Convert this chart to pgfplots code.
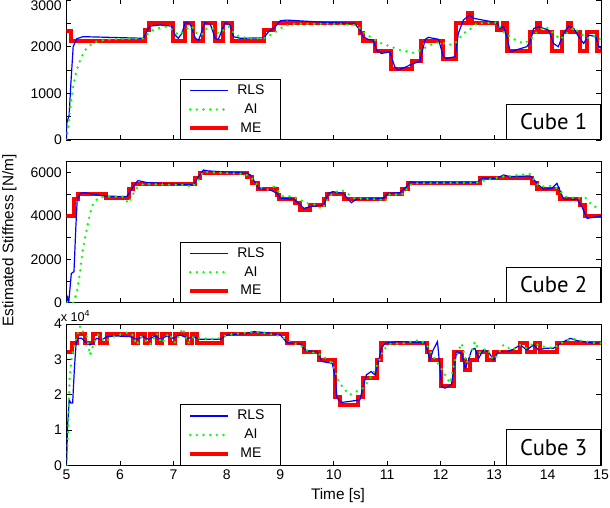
\documentclass[border=0pt]{standalone}
\usepackage{fontspec}
\setmainfont{Liberation Sans}
\newfontfamily\cubefont{PT Sans}
\usepackage{pgfplots}
\pgfplotsset{compat=1.18}
\definecolor{aigreen}{RGB}{0,255,0}
\pgfplotsset{
  base/.style={
    scale only axis, width=400.9pt,
    xmin=5, xmax=15, ymin=0,
    xtick={5,...,15},
    tick pos=both,
    tick align=inside,
    major tick length=3.75pt, minor tick length=3.75pt,
    every tick/.style={black, line width=0.5pt},
    axis line style={black, line width=0.75pt},
    ticklabel style={font=\fontsize{10.5}{12}\selectfont},
    /pgf/number format/assume math mode=true,
    /pgf/number format/1000 sep={},
    legend style={at={(0.212,0)}, anchor=south west, draw=black, line width=0.6pt, fill=white,
      font=\fontsize{10.5}{12}\selectfont, inner xsep=6pt, inner ysep=3pt, row sep=3.5pt,
      nodes={inner sep=1pt}},
    legend image code/.code={\draw[#1] (0pt,0pt) -- (28pt,0pt);},
  },
  me/.style={red, line width=3pt, mark=none},
  rls/.style={blue, line width=0.9pt, mark=none},
  ai/.style={aigreen, line width=2pt, line cap=round, dash pattern=on 0pt off 5pt, mark=none},
}
\begin{document}
\begin{tikzpicture}
\useasboundingbox (0pt,0pt) rectangle (457.5pt,380.25pt);
% ---------------- Cube 1
\begin{axis}[base, at={(49.875pt,275.25pt)}, anchor=south west, height=106.1pt, ymax=3032,
  xticklabels={},
  ytick={0,1000,2000}, minor ytick={500,1500,2500},
  extra y ticks={3000}, extra y tick style={yticklabel style={yshift=-4.5pt}}]
\addplot[me, const plot, forget plot] coordinates {
(5.00,2330) (5.08,2130) (6.47,2360) (6.55,2515) (7.00,2130) (7.22,2515) (7.375,2130) (7.56,2515) (7.77,2130) (7.92,2515) (8.09,2130) (8.69,2360) (8.875,2515) (10.49,2290) (10.55,2130) (10.77,1915) (11.08,1515) (11.46,1690) (11.64,2130) (12.05,1730) (12.29,2515) (12.52,2715) (12.58,2515) (13.05,2360) (13.175,2515) (13.24,1915) (13.675,2320) (13.8,2515) (13.85,2320) (14.08,1915) (14.27,2320) (14.39,2515) (14.44,2320) (14.61,1915) (14.74,2320) (14.925,1915) (15.0,1915)};
\addplot[rls] coordinates {
(5.0,0) (5.004,357) (5.05,535) (5.08,1180) (5.125,2000) (5.19,2170) (5.31,2215) (6.44,2180) (6.5,2320) (6.56,2440) (6.75,2465) (6.97,2440) (7.03,2250) (7.09,2180) (7.16,2285) (7.22,2515) (7.31,2500) (7.41,2180) (7.47,2140) (7.53,2320) (7.59,2515) (7.69,2485) (7.78,2180) (7.84,2157) (7.91,2355) (7.97,2515) (8.06,2465) (8.125,2215) (8.25,2180) (8.69,2190) (8.78,2320) (8.875,2390) (9.0,2555) (9.125,2570) (9.925,2515) (10.39,2500) (10.49,2355) (10.55,2215) (10.64,2157) (10.74,2140) (10.8,1930) (10.89,1855) (11.05,1890) (11.14,1570) (11.2,1500) (11.36,1570) (11.46,1630) (11.61,1680) (11.71,2157) (11.77,2200) (11.96,2157) (12.05,1785) (12.11,1750) (12.27,1785) (12.33,2285) (12.425,2570) (12.54,2680) (12.61,2610) (12.86,2555) (13.05,2515) (13.11,2390) (13.175,2430) (13.24,2215) (13.3,1890) (13.61,2000) (13.675,2100) (13.74,2390) (13.83,2430) (14.02,2355) (14.11,2070) (14.2,2000) (14.3,2285) (14.39,2440) (14.49,2390) (14.58,2215) (14.675,2070) (14.77,2250) (14.9,2215) (14.96,2000) (15.0,1965)};
\addplot[ai] coordinates {
(5.0,0) (5.04,357) (5.08,785) (5.13,1180) (5.19,1500) (5.28,1785) (5.375,1965) (5.5,2090) (5.69,2140) (5.81,2157) (6.44,2180) (6.56,2320) (6.69,2390) (6.875,2430) (7.0,2355) (7.09,2250) (7.22,2355) (7.34,2440) (7.44,2285) (7.53,2250) (7.625,2390) (7.75,2390) (7.84,2285) (7.94,2355) (8.03,2430) (8.16,2250) (8.375,2180) (8.69,2180) (8.875,2285) (9.0,2390) (9.19,2485) (9.925,2490) (10.425,2465) (10.58,2285) (10.675,2215) (10.86,2085) (11.24,1930) (11.49,1870) (11.64,1930) (11.8,2035) (11.99,2100) (12.14,2035) (12.27,2070) (12.425,2285) (12.55,2370) (12.675,2500) (13.05,2515) (13.175,2320) (13.33,2180) (13.55,2070) (13.675,2140) (13.8,2320) (13.96,2430) (14.08,2320) (14.24,2157) (14.36,2285) (14.49,2410) (14.61,2285) (14.74,2180) (14.925,2230) (15.0,2140)};
\addlegendimage{me}
\legend{\makebox[30pt]{RLS},\makebox[30pt]{AI},\makebox[30pt]{ME}}
\node[draw=black, line width=0.6pt, fill=white, anchor=south east, minimum width=70.5pt, minimum height=26.5pt, inner sep=0pt, font=\cubefont\fontsize{17}{20}\selectfont] at (rel axis cs:1,0) {Cube 1};
\end{axis}
% ---------------- Cube 2
\begin{axis}[base, at={(49.875pt,153.2pt)}, anchor=south west, height=105.75pt, ymax=6500,
  xticklabels={},
  ytick={0,2000,4000,6000}, minor ytick={1000,3000,5000}]
\addplot[me, const plot, forget plot] coordinates {
(5.00,4000) (5.14,4770) (5.22,5015) (5.74,4815) (6.16,5230) (6.25,5475) (7.40,5740) (7.50,6000) (8.375,5815) (8.47,5500) (8.59,5230) (8.94,4970) (8.97,4770) (9.28,4585) (9.375,4275) (9.56,4505) (9.81,4770) (9.875,5015) (10.20,4770) (10.96,5015) (11.27,5230) (11.39,5505) (12.74,5740) (13.70,5505) (13.80,5245) (14.20,5045) (14.24,4770) (14.61,4505) (14.70,4000) (15.00,4000)};
\addplot[rls] coordinates {
(5.0,100) (5.02,250) (5.04,-50) (5.09,1350) (5.14,1430) (5.175,3500) (5.2,4740) (5.26,5045) (5.34,5075) (5.69,4920) (6.125,4890) (6.19,5120) (6.28,5475) (6.34,5630) (6.5,5540) (7.375,5430) (7.47,5815) (7.56,6120) (7.66,6075) (8.375,5970) (8.44,5890) (8.5,5660) (8.59,5275) (8.81,5200) (8.94,5045) (9.0,4815) (9.25,4770) (9.34,4585) (9.44,4350) (9.56,4430) (9.81,4505) (9.9,5045) (9.98,5120) (10.175,5045) (10.27,4770) (10.33,4615) (10.425,4770) (10.925,4815) (11.02,5045) (11.24,5075) (11.36,5350) (11.425,5580) (11.55,5540) (12.675,5540) (12.77,5740) (13.05,5740) (13.175,5890) (13.3,5815) (13.675,5845) (13.74,5690) (13.83,5430) (13.925,5230) (14.08,5275) (14.175,5505) (14.24,5120) (14.3,4770) (14.55,4770) (14.64,4430) (14.74,3890) (14.86,3940) (15.0,4000)};
\addplot[ai] coordinates {
(5.0,0) (5.125,0) (5.19,430) (5.25,1350) (5.31,2500) (5.375,3350) (5.44,4120) (5.5,4585) (5.59,4815) (5.69,4890) (6.06,4890) (6.16,4585) (6.22,4890) (6.31,5275) (6.44,5475) (7.25,5430) (7.34,5320) (7.44,5580) (7.56,6045) (7.81,6000) (8.34,5940) (8.47,5740) (8.59,5350) (8.75,5200) (8.875,5350) (8.97,5120) (9.06,4890) (9.22,4920) (9.375,4740) (9.5,4585) (9.69,4505) (9.78,4300) (9.875,4740) (9.98,5045) (10.14,5200) (10.3,4970) (10.39,4815) (10.86,4770) (10.96,4660) (11.05,5015) (11.24,4970) (11.33,5045) (11.39,5350) (11.49,5505) (12.675,5540) (12.83,5660) (13.175,5815) (13.675,5940) (13.77,5580) (13.86,5350) (14.05,5380) (14.175,5275) (14.33,4890) (14.55,4815) (14.7,4860) (14.83,4505) (15.0,4275)};
\addlegendimage{me}
\legend{\makebox[30pt]{RLS},\makebox[30pt]{AI},\makebox[30pt]{ME}}
\node[draw=black, line width=0.6pt, fill=white, anchor=south east, minimum width=70.5pt, minimum height=26.5pt, inner sep=0pt, font=\cubefont\fontsize{17}{20}\selectfont] at (rel axis cs:1,0) {Cube 2};
\end{axis}
% ---------------- Cube 3
\begin{axis}[base, at={(49.875pt,31.125pt)}, anchor=south west, height=106.1pt, ymax=40000,
  ytick={0,10000,20000,30000,40000},
  scaled y ticks=base 10:-4,
  ytick scale label code/.code={x 10\textsuperscript{4}},
  every y tick scale label/.style={at={(rel axis cs:0,1)}, anchor=south west, inner sep=0pt, xshift=-4.5pt, yshift=1.5pt, font=\fontsize{9.5}{11}\selectfont}]
\addplot[me, const plot, forget plot] coordinates {
(5.00,32200) (5.11,34550) (5.19,37200) (5.34,34550) (5.50,37200) (5.625,34550) (5.75,37200) (6.25,34550) (6.34,37200) (6.47,34550) (6.56,37200) (6.69,34550) (6.78,37200) (6.94,34550) (7.03,37200) (7.25,34550) (7.34,37200) (7.45,34550) (7.91,37200) (9.125,34550) (9.44,32200) (9.72,29700) (10.03,19500) (10.11,17200) (10.46,19500) (10.55,24700) (10.80,29700) (10.89,34550) (11.74,32200) (11.80,29700) (12.00,22350) (12.24,32200) (12.39,29700) (12.46,27000) (12.55,29700) (12.675,32200) (12.86,29700) (12.99,32200) (13.49,34550) (13.61,32200) (13.77,34550) (13.86,32200) (14.175,34550) (15.0,34550)};
\addplot[rls] coordinates {
(5.0,0) (5.02,11000) (5.05,18600) (5.08,17700) (5.115,17700) (5.15,28000) (5.18,34600) (5.22,36000) (5.28,36000) (5.38,34600) (5.44,34090) (5.5,34550) (5.56,35960) (5.66,35500) (5.75,36430) (5.94,36620) (6.19,36430) (6.31,35680) (6.44,36430) (6.53,35680) (6.66,36620) (6.75,35680) (6.875,36620) (7.0,35960) (7.125,36900) (7.28,35960) (7.375,36430) (7.5,35680) (7.875,35680) (8.0,36900) (8.375,37370) (8.5,37840) (8.75,37560) (9.0,36900) (9.125,34740) (9.375,34370) (9.47,32490) (9.69,32200) (9.78,29400) (9.97,28920) (10.03,25000) (10.06,19060) (10.14,17840) (10.3,18120) (10.49,18590) (10.55,22350) (10.61,25630) (10.7,26570) (10.77,25630) (10.83,28920) (10.89,33150) (10.96,34550) (11.175,35020) (11.71,34740) (11.8,29860) (11.86,32680) (11.94,35020) (12.02,22350) (12.08,21880) (12.2,22820) (12.3,32200) (12.39,31740) (12.46,27510) (12.52,29860) (12.58,32680) (12.64,33150) (12.71,30330) (12.8,32680) (12.89,32200) (12.99,29860) (13.08,32200) (13.24,32200) (13.36,32870) (13.49,34090) (13.61,32680) (13.74,34090) (13.83,32680) (13.96,33150) (14.11,33150) (14.24,34550) (14.425,35960) (14.55,35310) (14.8,34740) (15.0,34550)};
\addplot[ai] coordinates {
(5.0,0) (5.03,10000) (5.06,25000) (5.1,30800) (5.16,34600) (5.25,39200) (5.28,39250) (5.31,37800) (5.375,36900) (5.44,31270) (5.5,34090) (5.59,36900) (5.72,35020) (5.875,36430) (6.125,37560) (6.22,37370) (6.31,34090) (6.41,36430) (6.56,34090) (6.69,37370) (6.78,34550) (6.91,37370) (7.03,34740) (7.175,38780) (7.28,34550) (7.375,36430) (7.5,35960) (7.81,35680) (8.0,36900) (8.5,37840) (8.75,37370) (9.0,36620) (9.19,35020) (9.41,33620) (9.53,32200) (9.69,31740) (9.81,30800) (9.97,28920) (10.08,24230) (10.175,21880) (10.3,20000) (10.425,20940) (10.55,21880) (10.64,23760) (10.74,26100) (10.83,28920) (10.925,32680) (11.05,34370) (11.3,34550) (11.61,35500) (11.74,34090) (11.86,30800) (11.99,27980) (12.08,25630) (12.175,23290) (12.27,29860) (12.39,34550) (12.49,28920) (12.55,31270) (12.64,35020) (12.74,31740) (12.86,33150) (12.99,29860) (13.08,31740) (13.175,34090) (13.33,32680) (13.49,34090) (13.61,33150) (13.74,34550) (13.925,33620) (14.11,33150) (14.3,35020) (14.46,35960) (14.61,35310) (14.86,34740) (15.0,34550)};
\addlegendimage{me}
\legend{\makebox[30pt]{RLS},\makebox[30pt]{AI},\makebox[30pt]{ME}}
\node[draw=black, line width=0.6pt, fill=white, anchor=south east, minimum width=70.5pt, minimum height=26.5pt, inner sep=0pt, font=\cubefont\fontsize{17}{20}\selectfont] at (rel axis cs:1,0) {Cube 3};
\end{axis}
\node[rotate=90, font=\fontsize{11.5}{13}\selectfont] at (7pt,200pt) {Estimated Stiffness [N/m]};
\node[font=\fontsize{11.5}{13}\selectfont] at (253.5pt,8.5pt) {Time [s]};
\end{tikzpicture}
\end{document}
